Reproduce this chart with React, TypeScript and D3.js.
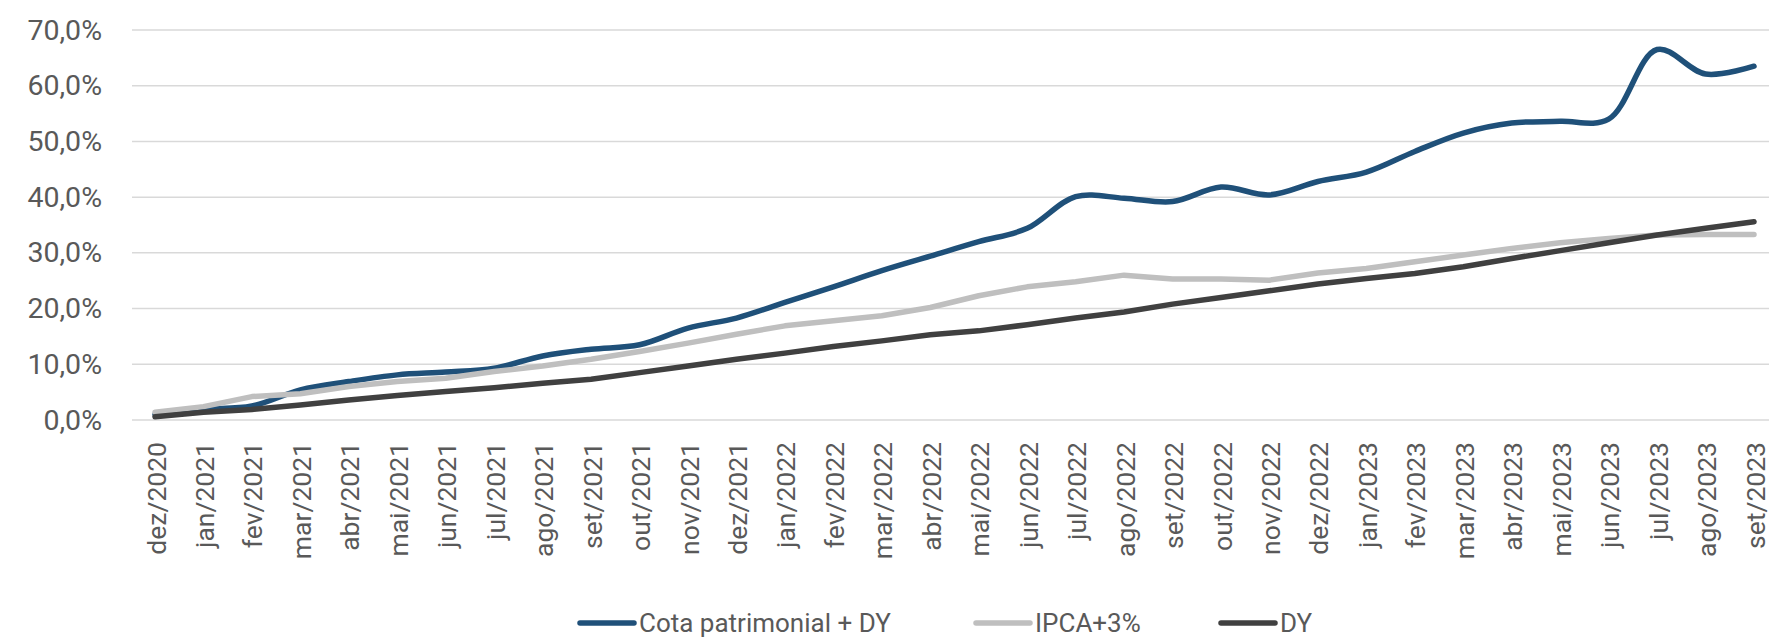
import * as d3 from 'd3'

const months = [
  'dez/2020', 'jan/2021', 'fev/2021', 'mar/2021', 'abr/2021', 'mai/2021', 'jun/2021', 'jul/2021',
  'ago/2021', 'set/2021', 'out/2021', 'nov/2021', 'dez/2021', 'jan/2022', 'fev/2022', 'mar/2022',
  'abr/2022', 'mai/2022', 'jun/2022', 'jul/2022', 'ago/2022', 'set/2022', 'out/2022', 'nov/2022',
  'dez/2022', 'jan/2023', 'fev/2023', 'mar/2023', 'abr/2023', 'mai/2023', 'jun/2023', 'jul/2023',
  'ago/2023', 'set/2023'
]

// values in %
const cotaDY = [
  1.0, 1.9, 2.5, 5.4, 6.9, 8.1, 8.6, 9.3, 11.5, 12.7, 13.5, 16.5, 18.3, 21.1, 23.9, 26.8,
  29.4, 32.0, 34.4, 40.1, 39.8, 39.2, 41.8, 40.4, 42.8, 44.5, 48.2, 51.5, 53.3, 53.6, 54.0, 66.5,
  62.1, 63.5
]
const ipca3 = [
  1.4, 2.4, 4.2, 4.7, 6.0, 6.9, 7.5, 8.7, 9.7, 10.9, 12.3, 13.8, 15.4, 16.9, 17.8, 18.7,
  20.2, 22.3, 23.9, 24.8, 26.0, 25.3, 25.3, 25.1, 26.4, 27.2, 28.4, 29.6, 30.8, 31.8, 32.6, 33.2,
  33.3, 33.3
]
const dy = [
  0.6, 1.4, 1.9, 2.7, 3.6, 4.4, 5.1, 5.8, 6.6, 7.3, 8.5, 9.7, 10.9, 12.0, 13.2, 14.2,
  15.3, 16.0, 17.1, 18.3, 19.4, 20.8, 22.0, 23.2, 24.4, 25.4, 26.3, 27.5, 29.0, 30.4, 31.8, 33.2,
  34.4, 35.6
]
const yTicks = [0, 10, 20, 30, 40, 50, 60, 70]

const series = [
  { name: 'Cota patrimonial + DY', values: cotaDY, color: '#1f5079', smooth: true },
  { name: 'IPCA+3%', values: ipca3, color: '#bfbfbf', smooth: false },
  { name: 'DY', values: dy, color: '#404040', smooth: false }
]

const W = 1769
const H = 637
const font = 'Roboto, "Noto Sans", sans-serif'
const textColor = '#595959'

export default function App() {
  const x = d3.scalePoint<string>().domain(months).range([155, 1754])
  const y = d3.scaleLinear().domain([0, 70]).range([420, 30])

  const makeLine = (smooth: boolean) =>
    d3.line<number>()
      .x((_, i) => x(months[i]) as number)
      .y(d => y(d))
      .curve(smooth ? d3.curveCatmullRom.alpha(0.5) : d3.curveLinear)

  // legend item start positions
  const legendX = [580, 976, 1221]

  return (
    <div style={{ position: 'absolute', left: 0, top: 0 }}>
      <svg width={W} height={H} style={{ display: 'block', background: '#fff' }}>
        {yTicks.map(t => (
          <g key={t}>
            <line x1={132} x2={W} y1={y(t)} y2={y(t)} stroke="#d9d9d9" strokeWidth={1.5} />
            <text x={102} y={y(t)} textAnchor="end" dominantBaseline="central"
              fontFamily={font} fontSize={28.5} fill={textColor}>
              {t.toFixed(1).replace('.', ',')}%
            </text>
          </g>
        ))}
        {months.map(m => (
          <text key={m} transform={`translate(${(x(m) as number) + 1},442) rotate(-90)`}
            textAnchor="end" dominantBaseline="central"
            fontFamily={font} fontSize={26.5} fill={textColor}>
            {m}
          </text>
        ))}
        {series.map(s => (
          <path key={s.name} d={makeLine(s.smooth)(s.values) || ''} fill="none"
            stroke={s.color} strokeWidth={5.5} strokeLinecap="round" strokeLinejoin="round" />
        ))}
        {series.map((s, i) => (
          <g key={s.name} transform={`translate(${legendX[i]},623)`}>
            <line x1={0} x2={54} y1={0} y2={0} stroke={s.color} strokeWidth={5.5} strokeLinecap="round" />
            <text x={59} y={8.5} fontFamily={font} fontSize={26} fill={textColor}>{s.name}</text>
          </g>
        ))}
      </svg>
    </div>
  )
}
